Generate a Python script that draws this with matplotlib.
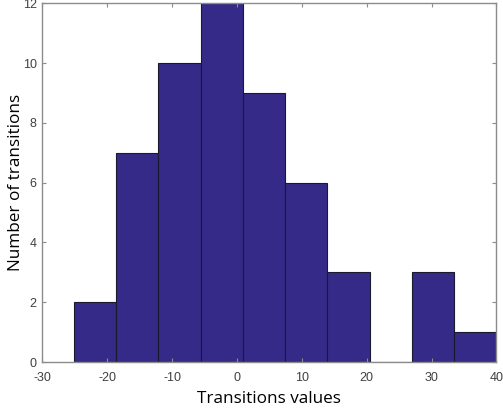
import numpy as np
import matplotlib
matplotlib.use("Agg")
import matplotlib.pyplot as plt

bin_edges = [-25.1, -18.6, -12.1, -5.6, 0.9, 7.45, 13.95, 20.45, 26.95, 33.5, 40.0]
counts = [2, 7, 10, 12, 9, 6, 3, 0, 3, 1]
x_ticks = [-30, -20, -10, 0, 10, 20, 30, 40]
y_ticks = [0, 2, 4, 6, 8, 10, 12]

fig = plt.figure(figsize=(5.03, 4.15), dpi=100)
ax = fig.add_axes([0.0841, 0.1277, 0.987 - 0.0841, 0.9916 - 0.1277])

lefts = np.array(bin_edges[:-1])
widths = np.diff(bin_edges)
ax.bar(lefts, counts, width=widths, align='edge', color='#352a87',
       edgecolor='#1a1a2e', linewidth=0.8)

ax.set_xlim(-30, 40)
ax.set_ylim(0, 12)
ax.set_xticks(x_ticks)
ax.set_yticks(y_ticks)
ax.set_xticklabels([str(t) for t in x_ticks])
ax.set_yticklabels([str(t) for t in y_ticks])

for s in ax.spines.values():
    s.set_color('#8c8c8c')
    s.set_linewidth(1.0)
ax.tick_params(direction='in', length=3, width=0.8, color='#8c8c8c',
               labelcolor='#404040', labelsize=9, top=True, right=True)
ax.tick_params(axis='x', pad=7)
ax.tick_params(axis='y', pad=4)
for lab in ax.get_xticklabels() + ax.get_yticklabels():
    lab.set_fontfamily('Liberation Sans')

ax.set_xlabel('Transitions values', fontsize=12.3, family='Open Sans', labelpad=5)
ax.set_ylabel('Number of transitions', fontsize=12.3, family='Open Sans', labelpad=-1)

fig.savefig('out.png', dpi=100)
